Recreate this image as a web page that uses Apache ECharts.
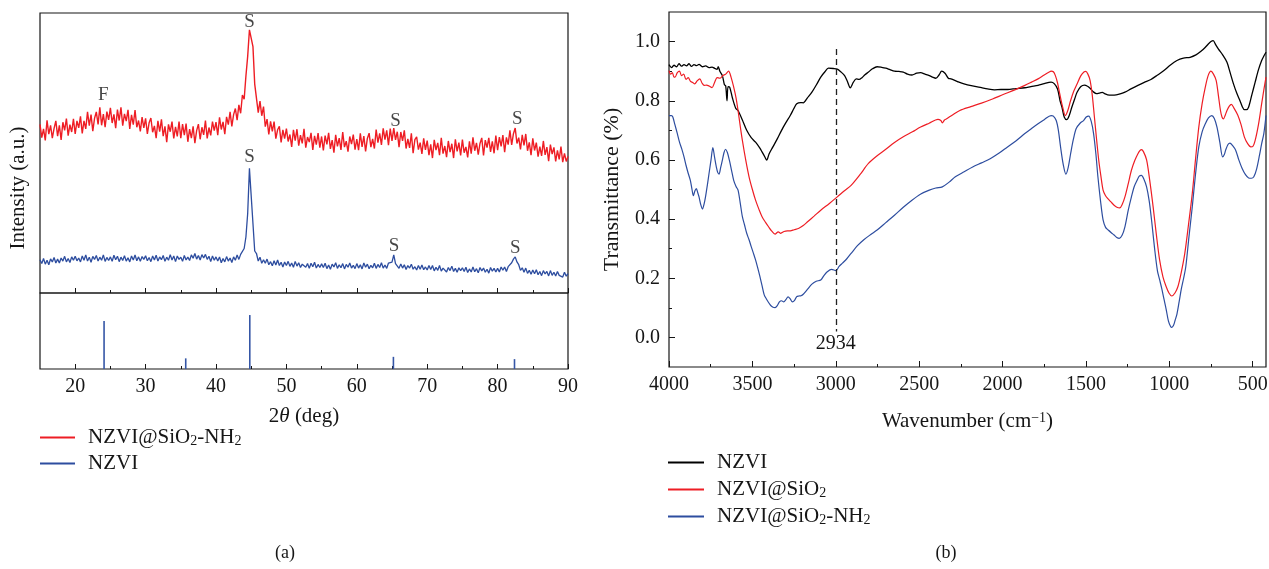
<!DOCTYPE html>
<html>
<head>
<meta charset="utf-8">
<script src="https://cdn.jsdelivr.net/npm/echarts@6/dist/echarts.min.js"></script>
<style>
  html, body { margin: 0; padding: 0; background: #ffffff; }
  #chart { width: 1269px; height: 569px; }
</style>
</head>
<body>
<div id="chart"></div>
<script>
// ---------- (a) XRD patterns, 2θ from 15° to 90° in 0.25° steps ----------
const twoThetaStart = 15;
const twoThetaStep = 0.25;

// NZVI@SiO2-NH2 intensity (a.u.)
const xrdCoated = [
  60.2, 55.5, 58.6, 54.5, 61.7, 56.7, 59.9, 55.3, 58.8, 61.5, 56.0, 59.9, 54.7, 61.0, 58.1, 62.3, 56.2, 60.1, 57.5, 62.2,
  56.8, 61.5, 59.0, 63.1, 57.0, 61.5, 58.6, 64.7, 59.8, 63.7, 57.8, 62.4, 64.7, 60.2, 66.3, 59.9, 63.9, 59.2, 64.8, 61.8,
  66.1, 60.7, 63.8, 58.9, 65.5, 61.6, 66.3, 59.8, 64.0, 61.4, 65.4, 58.6, 63.6, 60.1, 65.3, 59.2, 61.6, 57.7, 62.8, 59.0,
  62.4, 56.8, 60.8, 62.5, 57.4, 59.7, 55.3, 61.5, 57.6, 62.0, 56.0, 59.5, 53.9, 60.2, 57.6, 61.2, 55.2, 59.3, 55.9, 61.2,
  55.3, 60.3, 56.4, 60.5, 54.0, 58.5, 55.3, 59.5, 53.5, 58.0, 60.3, 54.9, 59.2, 56.5, 61.6, 55.2, 59.1, 56.3, 61.2, 58.0,
  61.0, 56.4, 62.7, 58.4, 61.1, 56.7, 62.9, 60.1, 64.7, 59.5, 63.7, 65.9, 61.7, 67.2, 64.2, 70.7, 69.2, 77.5, 84.5, 94.0,
  94.1, 88.0, 74.6, 74.0, 64.4, 68.5, 63.3, 66.6, 59.4, 62.1, 56.6, 61.3, 57.7, 61.2, 55.1, 58.3, 59.5, 53.8, 58.3, 55.1,
  58.7, 54.1, 56.6, 52.2, 58.3, 54.4, 58.5, 52.6, 56.4, 53.4, 58.6, 51.9, 55.7, 53.9, 57.2, 51.1, 56.1, 53.0, 57.1, 51.9,
  55.9, 50.9, 56.2, 53.1, 57.2, 51.5, 54.6, 50.1, 56.5, 52.4, 55.3, 51.1, 57.5, 52.1, 54.2, 50.5, 55.9, 53.2, 56.6, 51.2,
  55.0, 51.0, 57.0, 52.2, 56.0, 50.6, 55.2, 57.1, 52.1, 55.0, 51.6, 58.4, 53.7, 57.0, 52.9, 58.8, 54.8, 58.1, 52.8, 58.7,
  54.3, 58.9, 54.7, 57.6, 52.1, 57.5, 54.3, 58.1, 51.6, 55.0, 51.8, 57.0, 49.9, 54.8, 55.8, 51.2, 53.7, 49.7, 55.2, 51.1,
  54.4, 49.2, 53.1, 48.2, 54.7, 51.0, 53.6, 49.2, 55.4, 49.8, 52.5, 48.5, 54.3, 50.3, 53.3, 48.2, 54.9, 50.6, 53.7, 49.1,
  54.8, 50.1, 52.2, 48.4, 54.2, 49.8, 55.6, 50.8, 53.6, 49.4, 53.4, 55.4, 49.1, 54.6, 51.9, 55.4, 50.4, 54.2, 49.9, 56.2,
  51.0, 55.7, 52.4, 56.4, 50.3, 55.6, 53.0, 58.1, 52.9, 56.9, 58.9, 53.4, 55.5, 51.3, 56.5, 52.7, 56.8, 50.8, 53.8, 49.2,
  55.2, 50.9, 53.7, 48.7, 52.3, 49.0, 54.3, 49.3, 52.1, 47.1, 53.0, 49.6, 52.0, 47.0, 50.9, 47.7, 52.3, 46.7, 49.9, 47.0,
  48.8
];

// NZVI intensity (a.u.)
const xrdBare = [
  11.9, 10.5, 12.3, 10.3, 11.7, 10.1, 12.2, 11.1, 12.7, 10.7, 12.1, 10.7, 12.5, 11.4, 13.1, 11.1, 12.3, 10.9, 12.9, 11.7,
  13.1, 11.5, 12.5, 11.1, 13.2, 11.7, 13.6, 11.4, 12.8, 11.0, 13.1, 12.0, 13.4, 11.4, 12.8, 11.7, 13.6, 11.3, 12.7, 11.6,
  12.9, 11.3, 13.5, 11.9, 13.1, 11.2, 12.8, 11.6, 13.3, 11.4, 12.6, 11.1, 13.2, 11.8, 13.6, 11.5, 12.9, 11.3, 13.0, 12.0,
  13.3, 11.5, 12.7, 11.2, 13.2, 11.8, 13.5, 11.4, 12.9, 11.9, 13.4, 11.3, 12.8, 11.7, 13.7, 11.8, 13.2, 11.2, 13.2, 12.0,
  12.8, 11.3, 13.4, 11.8, 12.8, 11.6, 13.6, 12.4, 14.1, 12.1, 13.4, 11.8, 13.7, 12.5, 13.8, 12.0, 13.1, 11.2, 13.2, 11.7,
  12.9, 11.4, 12.9, 10.8, 12.3, 11.1, 13.0, 11.4, 12.5, 10.9, 12.9, 11.7, 13.6, 12.0, 13.8, 13.7, 15.9, 20.0, 28.4, 44.5,
  43.8, 24.8, 15.0, 14.1, 11.4, 12.8, 10.6, 11.9, 10.6, 12.1, 10.1, 11.2, 9.7, 11.5, 10.0, 11.8, 9.8, 11.0, 9.3, 11.1,
  9.8, 11.3, 9.5, 10.7, 9.2, 11.3, 9.6, 10.8, 9.1, 10.3, 11.0, 9.2, 10.5, 8.8, 10.6, 9.4, 11.0, 8.9, 10.2, 9.1,
  10.4, 9.1, 10.6, 8.7, 10.0, 8.5, 10.3, 9.3, 10.8, 8.8, 10.1, 9.0, 10.5, 8.6, 10.2, 9.2, 10.7, 8.9, 9.9, 8.7,
  10.5, 8.9, 10.1, 8.6, 10.7, 9.2, 10.3, 8.7, 9.9, 9.0, 10.6, 8.8, 10.2, 9.1, 10.8, 8.9, 10.0, 8.8, 10.7, 10.1,
  11.0, 13.6, 10.5, 10.6, 8.8, 10.4, 8.9, 10.1, 8.4, 9.8, 8.9, 10.3, 8.5, 9.4, 8.2, 9.8, 8.5, 10.0, 8.3, 9.3,
  8.2, 9.8, 8.4, 9.8, 7.9, 9.2, 8.1, 9.8, 7.8, 8.9, 9.4, 7.5, 9.1, 8.0, 9.6, 7.7, 8.8, 7.4, 9.0, 8.0,
  9.0, 7.7, 9.2, 7.3, 8.6, 7.5, 9.3, 7.6, 8.7, 7.2, 9.1, 7.9, 8.9, 7.4, 8.5, 7.1, 9.1, 7.8, 8.8, 7.5,
  8.8, 7.5, 9.3, 8.1, 9.3, 7.7, 9.4, 9.2, 10.8, 12.1, 12.9, 11.1, 10.1, 8.1, 9.0, 7.4, 8.9, 7.0, 8.1, 6.7,
  8.2, 6.9, 8.3, 6.5, 7.7, 6.2, 8.0, 6.8, 7.7, 6.1, 8.0, 6.3, 7.4, 6.1, 7.7, 6.3, 7.0, 5.7, 7.4, 6.0,
  6.9
];

// Phase markers written over the peaks (F, S)
const peakMarkPos   = [24.0, 44.75, 65.5, 82.8, 44.75, 65.3, 82.5];
const peakMarkLevel = [70.7, 96.8, 61.4, 62.1, 48.6, 16.8, 16.1];
const peakMarkText  = ['F', 'S', 'S', 'S', 'S', 'S', 'S'];

// Reference (standard card) line pattern
const refLinePos = [24.1, 35.7, 44.8, 65.2, 82.4];
const refLineInt = [63, 14, 71, 16, 13];

const xrdMajorTicks = [20, 30, 40, 50, 60, 70, 80, 90];
const xrdMinorTicks = [25, 35, 45, 55, 65, 75, 85];

// ---------- (b) FTIR spectra, [wavenumber cm^-1, transmittance] ----------
const ftirBare = [
  [4000,0.922],[3985,0.912],[3970,0.920],[3955,0.915],[3940,0.925],[3925,0.917],[3910,0.922],[3895,0.918],
  [3880,0.925],[3865,0.916],[3850,0.922],[3835,0.919],[3820,0.923],[3800,0.915],[3780,0.918],[3760,0.912],
  [3742,0.914],[3725,0.909],[3712,0.906],[3705,0.915],[3695,0.900],[3680,0.885],[3668,0.855],[3660,0.850],
  [3652,0.800],[3646,0.848],[3636,0.846],[3620,0.810],[3600,0.775],[3586,0.767],[3560,0.735],[3534,0.700],
  [3507,0.675],[3481,0.660],[3455,0.640],[3442,0.627],[3425,0.610],[3414,0.599],[3400,0.620],[3377,0.644],
  [3350,0.672],[3325,0.700],[3300,0.725],[3273,0.750],[3250,0.775],[3234,0.790],[3210,0.794],[3195,0.793],
  [3170,0.810],[3143,0.829],[3115,0.855],[3090,0.880],[3065,0.898],[3044,0.910],[3015,0.909],[2991,0.907],
  [2970,0.898],[2947,0.885],[2930,0.865],[2913,0.844],[2895,0.862],[2877,0.874],[2860,0.872],[2843,0.878],
  [2825,0.888],[2804,0.897],[2780,0.908],[2752,0.915],[2725,0.913],[2700,0.910],[2675,0.905],[2648,0.900],
  [2620,0.899],[2595,0.897],[2570,0.890],[2543,0.887],[2515,0.893],[2491,0.895],[2465,0.890],[2439,0.885],
  [2420,0.880],[2400,0.876],[2380,0.888],[2365,0.900],[2345,0.893],[2325,0.876],[2309,0.874],[2270,0.865],
  [2231,0.857],[2180,0.850],[2126,0.844],[2090,0.840],[2048,0.837],[2010,0.838],[1970,0.838],[1920,0.841],
  [1866,0.844],[1830,0.848],[1787,0.852],[1750,0.858],[1709,0.863],[1690,0.858],[1670,0.840],[1655,0.800],
  [1644,0.779],[1630,0.745],[1615,0.736],[1600,0.750],[1584,0.779],[1568,0.805],[1553,0.829],[1530,0.848],
  [1509,0.853],[1490,0.849],[1475,0.842],[1455,0.830],[1436,0.824],[1420,0.826],[1402,0.828],[1385,0.823],
  [1370,0.820],[1345,0.819],[1318,0.820],[1290,0.824],[1266,0.829],[1230,0.840],[1188,0.852],[1150,0.862],
  [1110,0.872],[1070,0.887],[1032,0.902],[995,0.920],[954,0.936],[915,0.944],[875,0.947],[840,0.955],
  [810,0.967],[785,0.980],[766,0.992],[750,1.000],[737,1.003],[722,0.990],[706,0.975],[680,0.955],
  [654,0.930],[635,0.895],[615,0.857],[595,0.825],[576,0.800],[562,0.780],[550,0.770],[537,0.770],
  [524,0.779],[505,0.820],[485,0.863],[465,0.905],[446,0.936],[432,0.952],[420,0.964]
];

const ftirSilica = [
  [4000,0.902],[3990,0.890],[3980,0.895],[3970,0.880],[3964,0.880],[3950,0.895],[3937,0.900],[3925,0.885],
  [3912,0.890],[3898,0.872],[3885,0.878],[3870,0.865],[3858,0.862],[3846,0.857],[3830,0.868],[3815,0.874],
  [3802,0.860],[3789,0.852],[3775,0.853],[3760,0.850],[3742,0.844],[3728,0.860],[3711,0.878],[3695,0.876],
  [3677,0.885],[3660,0.890],[3643,0.900],[3628,0.880],[3612,0.846],[3598,0.810],[3586,0.767],[3573,0.715],
  [3560,0.666],[3540,0.600],[3520,0.543],[3500,0.500],[3481,0.464],[3460,0.432],[3442,0.408],[3420,0.388],
  [3403,0.374],[3385,0.360],[3364,0.349],[3345,0.357],[3330,0.352],[3310,0.358],[3290,0.360],[3273,0.360],
  [3250,0.364],[3221,0.369],[3195,0.378],[3169,0.391],[3130,0.410],[3090,0.430],[3040,0.452],[2991,0.475],
  [2950,0.495],[2908,0.514],[2855,0.550],[2804,0.588],[2750,0.615],[2700,0.636],[2650,0.658],[2595,0.678],
  [2540,0.695],[2491,0.711],[2440,0.724],[2387,0.737],[2370,0.733],[2361,0.725],[2348,0.735],[2335,0.739],
  [2300,0.752],[2256,0.767],[2190,0.780],[2126,0.792],[2060,0.806],[1996,0.821],[1930,0.836],[1866,0.852],
  [1826,0.863],[1787,0.874],[1750,0.887],[1720,0.897],[1709,0.900],[1695,0.898],[1683,0.885],[1670,0.860],
  [1657,0.824],[1640,0.780],[1623,0.750],[1608,0.768],[1592,0.800],[1573,0.832],[1553,0.857],[1530,0.885],
  [1510,0.898],[1501,0.899],[1488,0.890],[1475,0.869],[1462,0.820],[1449,0.745],[1436,0.670],[1423,0.599],
  [1410,0.545],[1397,0.498],[1383,0.480],[1370,0.470],[1350,0.458],[1331,0.447],[1314,0.440],[1297,0.438],
  [1282,0.450],[1266,0.475],[1246,0.520],[1227,0.565],[1207,0.598],[1188,0.621],[1175,0.632],[1167,0.635],
  [1155,0.628],[1136,0.600],[1117,0.530],[1097,0.442],[1078,0.350],[1058,0.262],[1038,0.205],[1019,0.172],
  [1002,0.150],[985,0.140],[966,0.150],[948,0.172],[928,0.220],[907,0.284],[885,0.380],[862,0.487],
  [843,0.600],[823,0.711],[803,0.790],[784,0.846],[767,0.885],[750,0.900],[735,0.890],[719,0.869],
  [706,0.820],[693,0.767],[684,0.745],[675,0.739],[664,0.752],[654,0.767],[640,0.782],[628,0.788],
  [612,0.775],[589,0.751],[570,0.720],[550,0.678],[530,0.655],[511,0.644],[500,0.645],[485,0.666],
  [465,0.720],[446,0.790],[432,0.840],[420,0.880]
];

const ftirAmine = [
  [4000,0.750],[3985,0.750],[3977,0.745],[3965,0.720],[3950,0.689],[3937,0.660],[3924,0.638],[3910,0.610],
  [3898,0.582],[3885,0.555],[3872,0.531],[3862,0.500],[3854,0.479],[3845,0.495],[3836,0.503],[3828,0.490],
  [3820,0.475],[3810,0.450],[3799,0.434],[3790,0.450],[3781,0.475],[3770,0.515],[3760,0.554],[3748,0.600],
  [3737,0.642],[3727,0.610],[3716,0.576],[3708,0.558],[3700,0.552],[3690,0.575],[3680,0.599],[3670,0.625],
  [3661,0.636],[3650,0.625],[3638,0.599],[3625,0.565],[3612,0.531],[3598,0.510],[3586,0.498],[3573,0.455],
  [3560,0.408],[3547,0.380],[3534,0.352],[3520,0.330],[3507,0.307],[3494,0.285],[3481,0.262],[3468,0.235],
  [3455,0.206],[3442,0.175],[3429,0.144],[3416,0.130],[3403,0.118],[3390,0.108],[3376,0.102],[3364,0.101],
  [3350,0.108],[3338,0.120],[3325,0.124],[3312,0.120],[3299,0.128],[3286,0.137],[3273,0.130],[3260,0.120],
  [3247,0.125],[3234,0.138],[3221,0.140],[3208,0.141],[3195,0.146],[3169,0.163],[3143,0.180],[3117,0.190],
  [3090,0.194],[3070,0.210],[3051,0.222],[3025,0.230],[2999,0.226],[2980,0.240],[2960,0.251],[2935,0.265],
  [2908,0.284],[2870,0.310],[2830,0.331],[2790,0.348],[2752,0.363],[2700,0.388],[2648,0.413],[2595,0.440],
  [2543,0.464],[2490,0.485],[2439,0.498],[2400,0.505],[2361,0.509],[2320,0.525],[2283,0.543],[2230,0.560],
  [2179,0.576],[2126,0.590],[2074,0.604],[2020,0.623],[1970,0.644],[1918,0.665],[1866,0.689],[1826,0.706],
  [1787,0.722],[1748,0.737],[1709,0.750],[1695,0.748],[1678,0.733],[1665,0.700],[1652,0.644],[1636,0.585],
  [1620,0.552],[1606,0.575],[1592,0.620],[1575,0.670],[1558,0.706],[1535,0.724],[1514,0.733],[1498,0.745],
  [1483,0.748],[1468,0.730],[1454,0.689],[1440,0.620],[1428,0.543],[1412,0.460],[1397,0.397],[1382,0.372],
  [1366,0.363],[1348,0.354],[1331,0.346],[1315,0.338],[1300,0.335],[1283,0.345],[1266,0.374],[1246,0.430],
  [1227,0.475],[1210,0.510],[1193,0.531],[1180,0.545],[1167,0.548],[1152,0.535],[1136,0.509],[1120,0.460],
  [1105,0.390],[1088,0.300],[1071,0.225],[1058,0.195],[1045,0.165],[1032,0.130],[1019,0.096],[1005,0.055],
  [992,0.037],[985,0.034],[975,0.040],[965,0.058],[954,0.079],[941,0.120],[928,0.163],[914,0.200],
  [901,0.239],[882,0.340],[862,0.442],[843,0.550],[823,0.644],[803,0.695],[784,0.722],[765,0.742],
  [745,0.750],[730,0.740],[714,0.711],[697,0.660],[680,0.610],[670,0.618],[662,0.633],[648,0.652],
  [636,0.657],[620,0.648],[602,0.633],[583,0.600],[563,0.571],[543,0.550],[524,0.539],[508,0.538],
  [493,0.543],[476,0.570],[459,0.616],[446,0.655],[433,0.689],[420,0.750]
];

// Dashed guide line and its caption
const guideWavenumber = 3000;
const guideTop = 0.975;
const guideBottom = 0.02;
const guideCaption = '2934';

const ftirMajorTicks = [4000, 3500, 3000, 2500, 2000, 1500, 1000, 500];
const ftirMinorTicks = [3750, 3250, 2750, 2250, 1750, 1250, 750];
const transMajorTicks = [0, 0.2, 0.4, 0.6, 0.8, 1.0];
const transMinorTicks = [0.1, 0.3, 0.5, 0.7, 0.9];

// Series names and the text shown for them in the legends
const seriesNames = ['a:NZVI@SiO2-NH2', 'a:NZVI', 'b:NZVI', 'b:NZVI@SiO2', 'b:NZVI@SiO2-NH2'];
const legendTexts = {
  'a:NZVI@SiO2-NH2': 'NZVI@SiO{sub|2}-NH{sub|2}',
  'a:NZVI': 'NZVI',
  'b:NZVI': 'NZVI',
  'b:NZVI@SiO2': 'NZVI@SiO{sub|2}',
  'b:NZVI@SiO2-NH2': 'NZVI@SiO{sub|2}-NH{sub|2}'
};

// ---------- styling ----------
const FONT = 'Liberation Serif';
const INK = '#161616';
const RED = '#ee1d24';
const BLUE = '#2d4d9f';
const TICK_FS = 20;
const TITLE_FS = 21;

const xrdPairs = arr => arr.map((v, i) => [twoThetaStart + i * twoThetaStep, v]);

function tickAxis(extra) {
  return Object.assign({
    type: 'value',
    position: 'bottom',
    splitLine: { show: false },
    axisLine: { show: false, onZero: false },
    axisLabel: { show: false },
    axisTick: { show: true, inside: true, length: 5, lineStyle: { color: INK, width: 1 } }
  }, extra);
}

const legendText = {
  fontFamily: FONT, fontSize: TITLE_FS, color: INK, lineHeight: 21,
  rich: {
    g: { width: 8 },
    sub: { fontFamily: FONT, fontSize: 14, color: INK, lineHeight: 6, verticalAlign: 'bottom' }
  }
};

const gridBox = { show: true, borderColor: INK, borderWidth: 1.2, outerBoundsMode: 'none', containLabel: false };

const option = {
  animation: false,
  backgroundColor: '#ffffff',
  grid: [
    Object.assign({ left: 40, top: 13, width: 528, height: 280 }, gridBox),
    Object.assign({ left: 40, top: 293, width: 528, height: 76 }, gridBox),
    Object.assign({ left: 669, top: 12, width: 597, height: 355 }, gridBox)
  ],
  xAxis: [
    tickAxis({ gridIndex: 0, min: 15, max: 90,
      axisTick: { inside: true, length: 5, customValues: xrdMajorTicks, lineStyle: { color: INK } } }),
    tickAxis({ gridIndex: 0, min: 15, max: 90,
      axisTick: { inside: true, length: 3, customValues: xrdMinorTicks, lineStyle: { color: INK } } }),
    tickAxis({ gridIndex: 1, min: 15, max: 90,
      axisTick: { inside: true, length: 5, customValues: xrdMajorTicks, lineStyle: { color: INK } },
      axisLabel: { show: true, customValues: xrdMajorTicks, margin: 8,
        fontFamily: FONT, fontSize: TICK_FS, color: INK },
      name: '2{it|θ} (deg)', nameLocation: 'middle', nameGap: 37,
      nameTextStyle: { fontFamily: FONT, fontSize: TITLE_FS, color: INK,
        rich: { it: { fontFamily: FONT, fontSize: TITLE_FS, fontStyle: 'italic', color: INK } } } }),
    tickAxis({ gridIndex: 1, min: 15, max: 90,
      axisTick: { inside: true, length: 3, customValues: xrdMinorTicks, lineStyle: { color: INK } } }),
    tickAxis({ gridIndex: 2, min: 420, max: 4000, inverse: true,
      axisTick: { inside: true, length: 6, customValues: ftirMajorTicks, lineStyle: { color: INK } },
      axisLabel: { show: true, customValues: ftirMajorTicks, margin: 8, formatter: v => String(Math.round(v)),
        fontFamily: FONT, fontSize: TICK_FS, color: INK },
      name: 'Wavenumber (cm{sup|−1})', nameLocation: 'middle', nameGap: 44,
      nameTextStyle: { fontFamily: FONT, fontSize: TITLE_FS, color: INK,
        rich: { sup: { fontFamily: FONT, fontSize: 14, color: INK, lineHeight: 6, verticalAlign: 'top' } } } }),
    tickAxis({ gridIndex: 2, min: 420, max: 4000, inverse: true,
      axisTick: { inside: true, length: 3, customValues: ftirMinorTicks, lineStyle: { color: INK } } })
  ],
  yAxis: [
    { gridIndex: 0, type: 'value', min: 0, max: 100, show: false },
    { gridIndex: 1, type: 'value', min: 0, max: 100, show: false },
    { gridIndex: 2, type: 'value', min: -0.1, max: 1.1, position: 'left',
      splitLine: { show: false },
      axisLine: { show: false, onZero: false },
      axisTick: { inside: true, length: 6, customValues: transMajorTicks, lineStyle: { color: INK } },
      axisLabel: { customValues: transMajorTicks, margin: 9, formatter: v => Number(v).toFixed(1),
        fontFamily: FONT, fontSize: TICK_FS, color: INK },
      name: 'Transmittance (%)', nameLocation: 'middle', nameGap: 46,
      nameTextStyle: { fontFamily: FONT, fontSize: TITLE_FS + 1, color: INK } },
    { gridIndex: 2, type: 'value', min: -0.1, max: 1.1, position: 'left',
      splitLine: { show: false },
      axisLine: { show: false, onZero: false },
      axisTick: { inside: true, length: 3, customValues: transMinorTicks, lineStyle: { color: INK } },
      axisLabel: { show: false } }
  ],
  legend: [
    { data: seriesNames.slice(0, 2), left: 40, top: 427, orient: 'vertical', padding: 0,
      icon: 'rect', itemWidth: 35, itemHeight: 2, itemGap: 5, selectedMode: false,
      formatter: n => '{g| }' + legendTexts[n], textStyle: legendText },
    { data: seriesNames.slice(2), left: 668, top: 452, orient: 'vertical', padding: 0,
      icon: 'rect', itemWidth: 36, itemHeight: 2, itemGap: 6, selectedMode: false,
      formatter: n => '{g| }' + legendTexts[n], textStyle: legendText }
  ],
  graphic: [
    { type: 'text', x: 18, y: 188, rotation: Math.PI / 2,
      style: { text: 'Intensity (a.u.)', x: 0, y: 0, textAlign: 'center', textVerticalAlign: 'middle',
        font: '21px "' + FONT + '"', fill: INK } },
    { type: 'text', x: 285, y: 553,
      style: { text: '(a)', textAlign: 'center', textVerticalAlign: 'middle',
        font: '18px "' + FONT + '"', fill: INK } },
    { type: 'text', x: 946, y: 553,
      style: { text: '(b)', textAlign: 'center', textVerticalAlign: 'middle',
        font: '18px "' + FONT + '"', fill: INK } }
  ],
  series: [
    { name: seriesNames[0], type: 'line', xAxisIndex: 0, yAxisIndex: 0,
      data: xrdPairs(xrdCoated), showSymbol: false, color: RED,
      lineStyle: { color: RED, width: 1.4 } },
    { name: seriesNames[1], type: 'line', xAxisIndex: 0, yAxisIndex: 0,
      data: xrdPairs(xrdBare), showSymbol: false, color: BLUE,
      lineStyle: { color: BLUE, width: 1.3 } },
    { type: 'scatter', xAxisIndex: 0, yAxisIndex: 0, symbolSize: 0,
      data: peakMarkPos.map((p, i) => ({ value: [p, peakMarkLevel[i]], name: peakMarkText[i] })),
      label: { show: true, position: 'inside', formatter: '{b}',
        fontFamily: FONT, fontSize: 19, color: INK } },
    { type: 'bar', xAxisIndex: 2, yAxisIndex: 1, barWidth: 1.6,
      data: refLinePos.map((p, i) => [p, refLineInt[i]]),
      itemStyle: { color: '#3556a6' } },
    { name: seriesNames[2], type: 'line', xAxisIndex: 4, yAxisIndex: 2,
      data: ftirBare, showSymbol: false, smooth: 0.3, color: '#000000',
      lineStyle: { color: '#000000', width: 1.3 },
      markLine: {
        silent: true, symbol: ['none', 'none'], animation: false,
        lineStyle: { color: '#222222', width: 1.3, type: [6, 4] },
        label: { show: true, position: 'end', distance: 2, formatter: guideCaption,
          fontFamily: FONT, fontSize: TICK_FS, color: INK },
        data: [[{ coord: [guideWavenumber, guideTop] }, { coord: [guideWavenumber, guideBottom] }]]
      } },
    { name: seriesNames[3], type: 'line', xAxisIndex: 4, yAxisIndex: 2,
      data: ftirSilica, showSymbol: false, smooth: 0.3, color: RED,
      lineStyle: { color: RED, width: 1.2 } },
    { name: seriesNames[4], type: 'line', xAxisIndex: 4, yAxisIndex: 2,
      data: ftirAmine, showSymbol: false, smooth: 0.3, color: BLUE,
      lineStyle: { color: BLUE, width: 1.2 } }
  ]
};

const chart = echarts.init(document.getElementById('chart'), null, { renderer: 'canvas' });
chart.setOption(option);
</script>
</body>
</html>
